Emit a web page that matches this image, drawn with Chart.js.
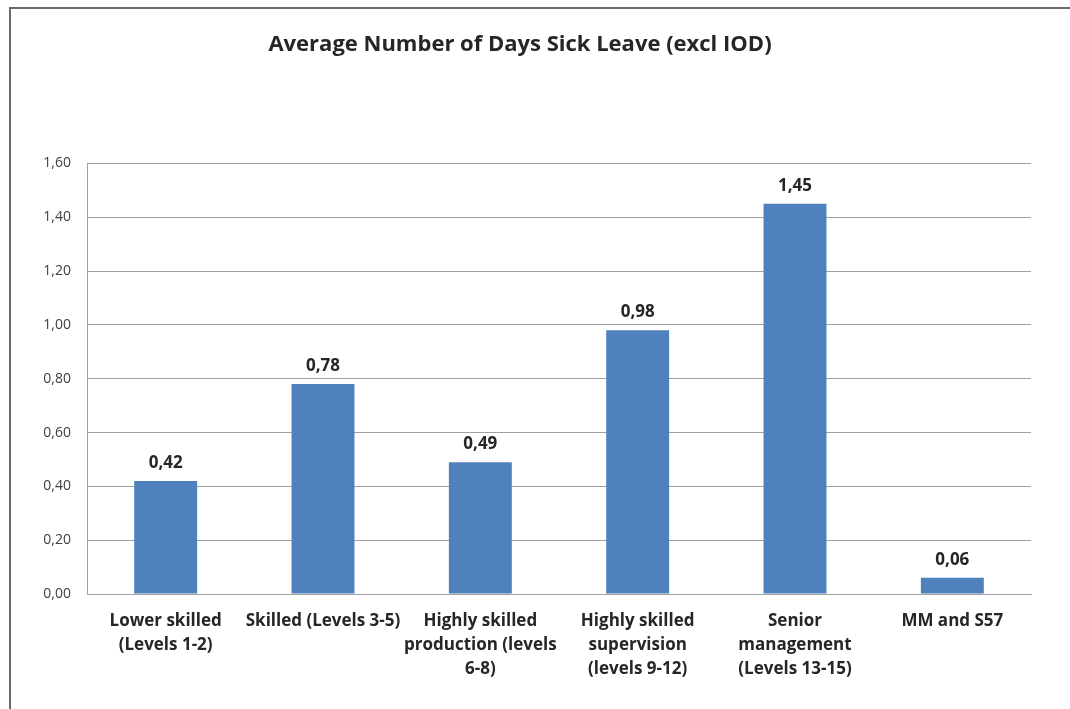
<!DOCTYPE html>
<html>
<head>
<meta charset="utf-8">
<script src="https://cdn.jsdelivr.net/npm/chart.js@4/dist/chart.umd.min.js"></script>
<style>
  html, body { margin: 0; padding: 0; background: #ffffff; overflow: hidden; }
  #frame {
    position: absolute; left: 9px; top: 7px; width: 1200px; height: 800px;
    border-left: 2px solid #6a6a6a; border-top: 2px solid #6a6a6a;
  }
  #wrap { position: absolute; left: 9px; top: 7px; width: 1028px; height: 702px; }
</style>
</head>
<body>
<div id="frame"></div>
<div id="wrap"><canvas id="chart"></canvas></div>
<script>
// Staff groups on the horizontal axis (each entry is one wrapped label)
const categories = [
  ["Lower skilled", "(Levels 1-2)"],
  ["Skilled (Levels 3-5)"],
  ["Highly skilled", "production (levels", "6-8)"],
  ["Highly skilled", "supervision", "(levels 9-12)"],
  ["Senior", "management", "(Levels 13-15)"],
  ["MM and S57"]
];

// Average number of sick-leave days per group
const sickDays = [0.42, 0.78, 0.49, 0.98, 1.45, 0.06];

// Value-axis range
const yMin = 0;
const yMax = 1.6;
const yStep = 0.2;

const FONT = "'Open Sans', Lato, 'DejaVu Sans', sans-serif";
const TEXT = "#262626";

const fmt = v => Number(v).toFixed(2).replace(".", ",");

// Writes each bar's value just above it
const valueLabels = {
  id: "valueLabels",
  afterDatasetsDraw(chart) {
    const ctx = chart.ctx;
    const meta = chart.getDatasetMeta(0);
    ctx.save();
    ctx.font = "bold 17px " + FONT;
    ctx.fillStyle = TEXT;
    ctx.textAlign = "center";
    ctx.textBaseline = "middle";
    meta.data.forEach((bar, i) => {
      ctx.fillText(fmt(chart.data.datasets[0].data[i]), bar.x, bar.y - 18);
    });
    ctx.restore();
  }
};

new Chart(document.getElementById("chart"), {
  type: "bar",
  data: {
    labels: categories,
    datasets: [{
      data: sickDays,
      backgroundColor: "#4f81bd",
      borderWidth: 0,
      barPercentage: 0.4,
      categoryPercentage: 1.0
    }]
  },
  options: {
    responsive: true,
    maintainAspectRatio: false,
    animation: false,
    layout: { padding: { left: 0, right: 6, top: 0, bottom: 0 } },
    plugins: {
      legend: { display: false },
      tooltip: { enabled: false },
      title: {
        display: true,
        text: "Average Number of Days Sick Leave (excl IOD)",
        color: TEXT,
        font: { family: FONT, size: 22, weight: "bold", lineHeight: 1.2 },
        padding: { top: 25, bottom: 105 }
      }
    },
    scales: {
      x: {
        grid: { display: false, drawTicks: false },
        border: { display: true, color: "#a0a0a0", width: 1 },
        ticks: {
          color: TEXT,
          font: { family: FONT, size: 17, weight: "bold", lineHeight: 1.41 },
          padding: 15,
          maxRotation: 0,
          autoSkip: false
        },
        afterFit(scale) { scale.height = 115; }
      },
      y: {
        min: yMin,
        max: yMax,
        ticks: {
          stepSize: yStep,
          color: "#404040",
          font: { family: FONT, size: 14 },
          padding: 16,
          callback: v => fmt(v)
        },
        grid: { color: "#a0a0a0", lineWidth: 1, drawTicks: false },
        border: { display: true, color: "#a0a0a0", width: 1 },
        afterFit(scale) { scale.width = 78; }
      }
    }
  },
  plugins: [valueLabels]
});
</script>
</body>
</html>
